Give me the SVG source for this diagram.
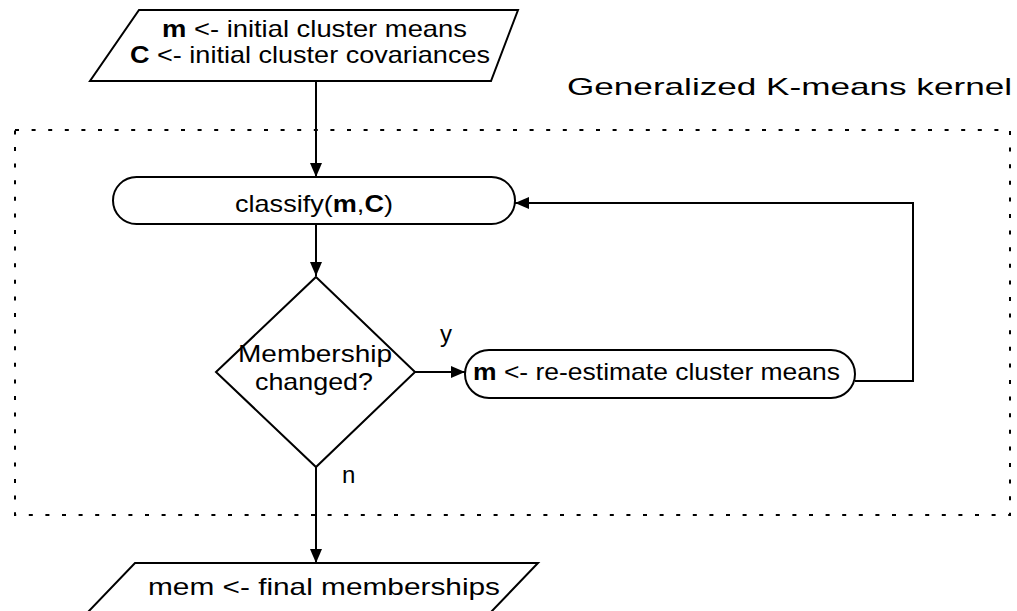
<svg xmlns="http://www.w3.org/2000/svg" width="1017" height="611" viewBox="0 0 1017 611">
<style>
.s{fill:#fff;stroke:#000;stroke-width:2}
.t{font-family:"Liberation Sans",Arial,Helvetica,sans-serif;font-size:24px;fill:#000}
.b{font-weight:bold}
.c{fill:none;stroke:#000;stroke-width:2}
</style>
<defs>
<marker id="ah" viewBox="0 0 14 12" refX="14" refY="6" markerWidth="14" markerHeight="12" markerUnits="userSpaceOnUse" orient="auto">
<path d="M0,0 L14,6 L0,12 Z" fill="#000"/>
</marker>
</defs>
<rect id="kernel" x="15" y="130" width="995" height="385" fill="none" stroke="#000" stroke-width="2" stroke-dasharray="4 12.6"/>
<text class="t" x="567" y="95" textLength="445" lengthAdjust="spacingAndGlyphs">Generalized K-means kernel</text>
<g id="connectors">
<line class="c" x1="316" y1="81" x2="316" y2="177" marker-end="url(#ah)"/>
<line class="c" x1="316" y1="224" x2="316" y2="276" marker-end="url(#ah)"/>
<line class="c" x1="415" y1="372" x2="465" y2="372" marker-end="url(#ah)"/>
<polyline class="c" points="855,381 913,381 913,203 515,203" marker-end="url(#ah)"/>
<line class="c" x1="316" y1="467" x2="316" y2="563" marker-end="url(#ah)"/>
<text class="t" x="440" y="342">y</text>
<text class="t" x="342" y="483">n</text>
</g>
<g id="init">
<polygon class="s" points="139,10 518,10 491,81 90,81"/>
<text class="t" x="162" y="37" textLength="305" lengthAdjust="spacingAndGlyphs"><tspan class="b">m</tspan> &lt;- initial cluster means</text>
<text class="t" x="130" y="63" textLength="360" lengthAdjust="spacingAndGlyphs"><tspan class="b">C</tspan> &lt;- initial cluster covariances</text>
</g>
<g id="classify">
<rect class="s" x="113" y="177" width="402" height="47" rx="23.5" ry="23.5"/>
<text class="t" x="235" y="212" textLength="158" lengthAdjust="spacingAndGlyphs">classify(<tspan class="b">m</tspan>,<tspan class="b">C</tspan>)</text>
</g>
<g id="decision">
<polygon class="s" points="316,277 415,372 316,467 216,372"/>
<text class="t" x="238" y="362" textLength="154" lengthAdjust="spacingAndGlyphs">Membership</text>
<text class="t" x="255" y="390" textLength="118" lengthAdjust="spacingAndGlyphs">changed?</text>
</g>
<g id="reestimate">
<rect class="s" x="465" y="350" width="390" height="48" rx="24" ry="24"/>
<text class="t" x="473" y="380" textLength="367" lengthAdjust="spacingAndGlyphs"><tspan class="b">m</tspan> &lt;- re-estimate cluster means</text>
</g>
<g id="final">
<polygon class="s" points="135,563 538,563 491,612 88,612"/>
<text class="t" x="148" y="595" textLength="352" lengthAdjust="spacingAndGlyphs">mem &lt;- final memberships</text>
</g>
</svg>
